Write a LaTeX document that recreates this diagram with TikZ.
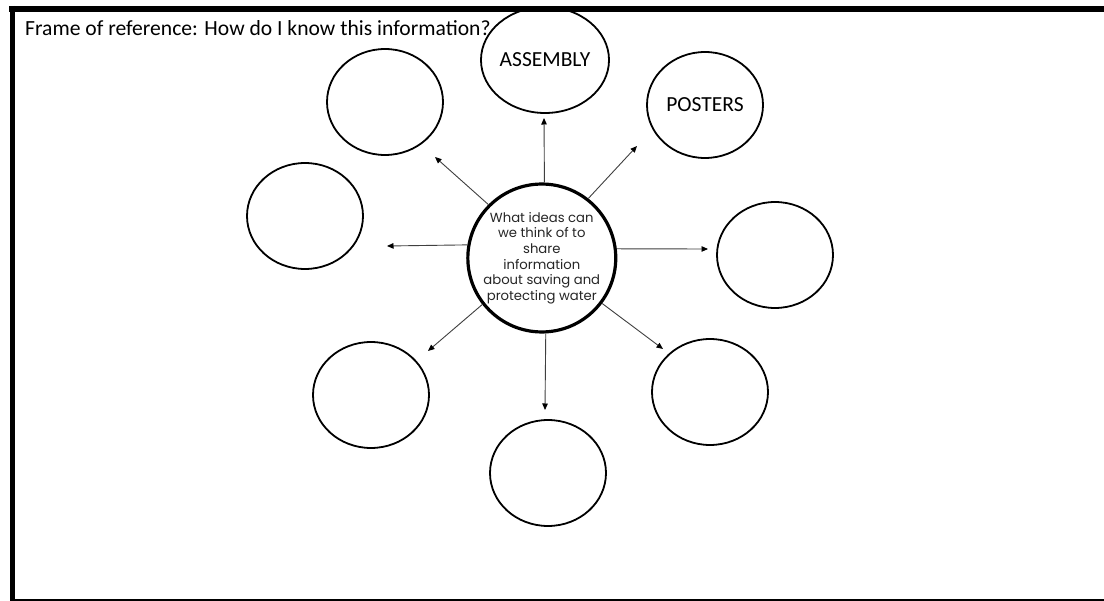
\documentclass[tikz,border=0pt]{standalone}
\usepackage{fontspec}
\setmainfont{Carlito}
\newfontfamily\centrefont{Poppins}
\usetikzlibrary{shapes.geometric,arrows.meta}
\tikzset{
  bubble/.style={draw=black, ellipse, line width=1.8pt, minimum width=116pt, minimum height=106pt, inner sep=0pt, font=\fontsize{21.5}{24}\selectfont},
  hub/.style={draw=black, circle, line width=3.2pt, minimum size=144pt, inner sep=0pt, align=center, text=black!85, font=\centrefont\fontsize{13.2}{15.6}\selectfont},
  link/.style={draw=black!75, line width=0.9pt, -{Triangle[length=6.5pt,width=5.5pt,fill=black,color=black]}},
  frameline/.style={draw=black}
}
\begin{document}
\begin{tikzpicture}[x=1pt,y=-1pt]
\useasboundingbox (0,0) rectangle (1104,601);
\fill[white] (0,0) rectangle (1104,601);
% frame
\draw[frameline, line width=5.5pt] (9,8.8) -- (1104,8.8);
\draw[frameline, line width=5pt] (12.5,6) -- (12.5,601);
\draw[frameline, line width=1.5pt] (10,600) -- (1104,600);
% title
\node[anchor=base west, inner sep=0pt, font=\fontsize{21.6}{26}\selectfont] (title) at (25,36) {Frame of reference: How do I know this information?};
% hub
\node[hub] (c) at (541.8,258) {What ideas can\\we think of to\\share\\information\\about saving and\\protecting water};
% bubbles
\node[bubble] (assembly) at (545,60) {ASSEMBLY};
\node[bubble] (posters) at (705,105) {POSTERS};
\node[bubble] (ul) at (385,102) {};
\node[bubble] (l) at (305,216) {};
\node[bubble] (r) at (775,255) {};
\node[bubble] (bl) at (371,395) {};
\node[bubble] (br) at (710,392) {};
\node[bubble] (b) at (548,473) {};
% arrow tips
\coordinate (tup) at (544,118);
\coordinate (tul) at (435,157);
\coordinate (tl) at (387,246);
\coordinate (tur) at (637,146);
\coordinate (tr) at (708,249);
\coordinate (tbl) at (428,351);
\coordinate (tb) at (545,410);
\coordinate (tbr) at (663,349);
\draw[link] (c.88) -- (tup);
\draw[link] (c.135) -- (tul);
\draw[link] (c.170.4) -- (tl);
\draw[link] (c.52.8) -- (tur);
\draw[link] (c.7.2) -- (tr);
\draw[link] (c.218.6) -- (tbl);
\draw[link] (c.-87.3) -- (tb);
\draw[link] (c.-37.8) -- (tbr);
\end{tikzpicture}
\end{document}
